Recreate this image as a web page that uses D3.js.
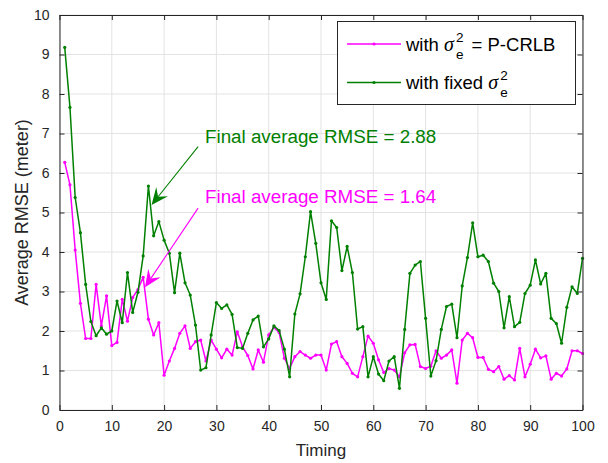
<!DOCTYPE html>
<html>
<head>
<meta charset="utf-8">
<script src="https://cdn.jsdelivr.net/npm/d3@7/dist/d3.min.js"></script>
<style>
  body { margin: 0; background: #fff; }
  text { font-family: "Liberation Sans", Arial, Helvetica, sans-serif; }
</style>
</head>
<body>
<div id="chart"></div>
<script>
// x positions (time steps)
const timing = d3.range(1, 101);

// RMSE with sigma_e^2 = P-CRLB (magenta)
const rmsePcrlb = [
  6.27, 5.70, 4.05, 2.70, 1.81, 1.81, 3.18, 2.13, 2.89, 1.63,
  1.71, 2.80, 2.25, 2.85, 3.05, 3.36, 2.30, 1.90, 2.21, 0.88,
  1.24, 1.56, 1.94, 2.13, 1.56, 1.73, 1.77, 1.24, 1.77, 1.54,
  1.32, 1.54, 1.39, 1.98, 1.60, 1.38, 1.04, 1.52, 1.21, 1.90,
  2.09, 1.96, 1.31, 1.05, 1.35, 1.48, 1.39, 1.31, 1.39, 1.39,
  1.01, 1.67, 1.73, 1.35, 1.18, 0.93, 0.84, 1.35, 1.87, 1.69,
  1.27, 0.95, 1.05, 1.01, 0.84, 1.45, 1.65, 1.66, 1.10, 1.05,
  1.11, 1.50, 1.31, 1.39, 1.52, 0.68, 1.77, 1.94, 1.83, 1.33,
  1.33, 1.03, 0.97, 1.10, 0.78, 0.87, 0.76, 1.56, 0.84, 1.16,
  1.54, 1.32, 1.37, 0.78, 0.93, 0.86, 1.04, 1.50, 1.50, 1.43
];

// RMSE with fixed sigma_e^2 (green)
const rmseFixed = [
  9.18, 7.66, 5.38, 4.49, 3.18, 2.24, 1.88, 2.08, 1.92, 2.00,
  2.76, 2.21, 3.48, 2.47, 2.98, 3.90, 5.67, 4.41, 4.77, 4.30,
  3.97, 2.97, 3.97, 3.22, 2.91, 2.15, 1.01, 1.07, 1.90, 2.72,
  2.57, 2.66, 2.42, 1.58, 1.56, 1.94, 2.28, 2.38, 1.60, 1.80,
  2.13, 2.01, 1.54, 0.84, 2.43, 2.94, 3.88, 5.02, 4.22, 3.22,
  2.80, 4.79, 4.62, 3.53, 4.14, 3.48, 2.05, 2.11, 0.84, 1.35,
  0.91, 0.74, 1.24, 1.35, 0.55, 2.04, 3.46, 3.67, 3.76, 2.32,
  0.86, 1.25, 2.04, 2.62, 2.68, 1.83, 3.14, 3.86, 4.74, 3.88,
  3.92, 3.76, 3.21, 3.00, 2.08, 2.87, 2.11, 2.22, 2.95, 3.16,
  3.80, 3.19, 3.46, 2.32, 2.19, 1.69, 2.60, 3.12, 2.95, 3.84
];

const xTicks = [0, 10, 20, 30, 40, 50, 60, 70, 80, 90, 100];
const yTicks = [0, 1, 2, 3, 4, 5, 6, 7, 8, 9, 10];

const finalRmsePcrlb = 1.64;
const finalRmseFixed = 2.88;

const MAGENTA = '#ff00ff';
const GREEN = '#008000';
const AXIS = '#262626';

const width = 608;
const height = 463;
const margin = {top: 15, right: 25.5, bottom: 53, left: 59.5};

const svg = d3.select('#chart').append('svg')
  .attr('width', width)
  .attr('height', height);

const x = d3.scaleLinear().domain([0, 100]).range([margin.left, width - margin.right]);
const y = d3.scaleLinear().domain([0, 10]).range([height - margin.bottom, margin.top]);

// grid
const grid = svg.append('g').attr('stroke', '#e3e3e3').attr('stroke-width', 1);
grid.selectAll('.gx').data(xTicks).join('line')
  .attr('x1', d => x(d)).attr('x2', d => x(d))
  .attr('y1', y(0)).attr('y2', y(10));
grid.selectAll('.gy').data(yTicks).join('line')
  .attr('x1', x(0)).attr('x2', x(100))
  .attr('y1', d => y(d)).attr('y2', d => y(d));

// series
const line = d3.line().x((d, i) => x(timing[i])).y(d => y(d));

function drawSeries(values, color) {
  const g = svg.append('g');
  g.append('path')
    .attr('d', line(values))
    .attr('fill', 'none')
    .attr('stroke', color)
    .attr('stroke-width', 1.5)
    .attr('stroke-linejoin', 'round');
  g.selectAll('circle').data(values).join('circle')
    .attr('cx', (d, i) => x(timing[i]))
    .attr('cy', d => y(d))
    .attr('r', 1.6)
    .attr('fill', color);
}
drawSeries(rmsePcrlb, MAGENTA);
drawSeries(rmseFixed, GREEN);

// axes (box with inward ticks on all sides)
const axisFont = 14;
const xAxisB = d3.axisBottom(x).tickValues(xTicks).tickSizeInner(-5).tickSizeOuter(0).tickPadding(11);
const xAxisT = d3.axisTop(x).tickValues(xTicks).tickSizeInner(-5).tickSizeOuter(0).tickFormat('');
const yAxisL = d3.axisLeft(y).tickValues(yTicks).tickSizeInner(-5).tickSizeOuter(0).tickPadding(10);
const yAxisR = d3.axisRight(y).tickValues(yTicks).tickSizeInner(-5).tickSizeOuter(0).tickFormat('');

function styleAxis(g) {
  g.selectAll('path,line').attr('stroke', AXIS);
  g.selectAll('text').attr('fill', AXIS).style('font-size', axisFont + 'px');
  g.attr('font-family', null);
}
svg.append('g').attr('transform', `translate(0,${y(0)})`).call(xAxisB).call(styleAxis);
svg.append('g').attr('transform', `translate(0,${y(10)})`).call(xAxisT).call(styleAxis);
svg.append('g').attr('transform', `translate(${x(0)},0)`).call(yAxisL).call(styleAxis);
svg.append('g').attr('transform', `translate(${x(100)},0)`).call(yAxisR).call(styleAxis);

// axis labels
svg.append('text')
  .attr('x', (x(0) + x(100)) / 2).attr('y', 456)
  .attr('text-anchor', 'middle').attr('fill', AXIS)
  .style('font-size', '17px').text('Timing');
svg.append('text')
  .attr('transform', `translate(28,${(y(0) + y(10)) / 2}) rotate(-90)`)
  .attr('text-anchor', 'middle').attr('fill', AXIS)
  .style('font-size', '18px').text('Average RMSE (meter)');

// annotations with arrows
function arrow(from, to, color) {
  const x1 = x(from[0]), y1 = y(from[1]), x2 = x(to[0]), y2 = y(to[1]);
  const a = Math.atan2(y2 - y1, x2 - x1);
  const L = 17, W = 7.5;
  const ux = Math.cos(a), uy = Math.sin(a);
  const px = -uy, py = ux;
  const bx = x2 - ux * L, by = y2 - uy * L;
  const nx = x2 - ux * L * 0.62, ny = y2 - uy * L * 0.62;
  svg.append('line')
    .attr('x1', x1).attr('y1', y1).attr('x2', nx).attr('y2', ny)
    .attr('stroke', color).attr('stroke-width', 1.1);
  svg.append('path')
    .attr('d', `M${x2},${y2}L${bx + px * W},${by + py * W}L${nx},${ny}L${bx - px * W},${by - py * W}Z`)
    .attr('fill', color);
}
arrow([26.5, 6.67], [17.6, 5.19], GREEN);
arrow([26.5, 5.11], [16.35, 3.11], MAGENTA);

svg.append('text')
  .attr('x', 205).attr('y', 143)
  .attr('fill', GREEN).style('font-size', '18.8px')
  .text(`Final average RMSE = ${finalRmseFixed.toFixed(2)}`);
svg.append('text')
  .attr('x', 205).attr('y', 203)
  .attr('fill', MAGENTA).style('font-size', '18.8px')
  .text(`Final average RMSE = ${finalRmsePcrlb.toFixed(2)}`);

// legend
const legend = svg.append('g');
legend.append('rect')
  .attr('x', 337.5).attr('y', 21.5).attr('width', 238).attr('height', 83)
  .attr('fill', '#fff').attr('stroke', AXIS).attr('stroke-width', 1);

const legendFont = 18.5;
function sigmaLabel(g, tx, ty, before, after) {
  const t = g.append('text').attr('x', tx).attr('y', ty).attr('fill', '#000')
    .style('font-size', legendFont + 'px');
  t.append('tspan').text(before);
  t.append('tspan').text('\u03c3')
    .style('font-family', '"Liberation Serif", "DejaVu Serif", serif')
    .style('font-style', 'italic').style('font-size', '20px');
  const sub = t.append('tspan').attr('dx', 2).attr('dy', 8).style('font-size', '13.5px').text('e');
  const subW = sub.node().getComputedTextLength();
  t.append('tspan').attr('dx', -subW).attr('dy', -17).style('font-size', '13.5px').text('2');
  if (after) t.append('tspan').attr('dx', 3).attr('dy', 9).text(after);
}

const legendRows = [
  {color: MAGENTA, before: 'with ', after: ' = P-CRLB', y: 44},
  {color: GREEN, before: 'with fixed ', after: '', y: 82.5}
];
legendRows.forEach(r => {
  legend.append('line')
    .attr('x1', 347).attr('x2', 401).attr('y1', r.y).attr('y2', r.y)
    .attr('stroke', r.color).attr('stroke-width', 1.5);
  legend.append('circle').attr('cx', 374).attr('cy', r.y).attr('r', 1.6).attr('fill', r.color);
  sigmaLabel(legend, 406, r.y + 6.5, r.before, r.after);
});
</script>
</body>
</html>
